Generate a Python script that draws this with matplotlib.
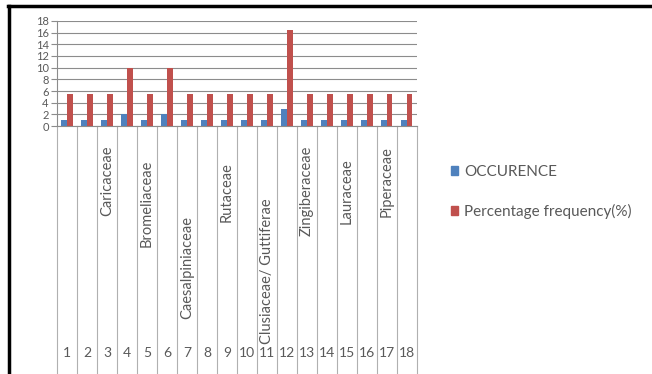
import matplotlib.pyplot as plt
import numpy as np
from matplotlib.lines import Line2D
from matplotlib.patches import Patch

# data
cats = [str(i) for i in range(1, 19)]
families = ['', '', 'Caricaceae', '', 'Bromeliaceae', '', 'Caesalpiniaceae', '',
            'Rutaceae', '', 'Clusiaceae/ Guttiferae', '', 'Zingiberaceae', '',
            'Lauraceae', '', 'Piperaceae', '']
occurence = [1, 1, 1, 2, 1, 2, 1, 1, 1, 1, 1, 3, 1, 1, 1, 1, 1, 1]
pct_freq = [5.5, 5.5, 5.5, 10, 5.5, 10, 5.5, 5.5, 5.5, 5.5, 5.5, 16.5,
            5.5, 5.5, 5.5, 5.5, 5.5, 5.5]
yticks = list(range(0, 19, 2))

# where each family label is centred below the axis (axes fraction)
fam_y = [0, 0, -0.52, 0, -0.74, 0, -1.35, 0, -0.63, 0, -1.38, 0,
         -0.62, 0, -0.62, 0, -0.53, 0]

plt.rcParams['font.family'] = ['Lato', 'DejaVu Sans']
blue = '#4F81BD'
red = '#C0504D'
txt = '#595959'
grid = '#8c8c8c'

fig = plt.figure(figsize=(6.52, 3.74), dpi=100)
ax = fig.add_axes([0.0874, 0.663, 0.552, 0.281])

x = np.arange(1, len(cats) + 1)
w = 0.28
ax.bar(x - w / 2, occurence, w, color=blue, label='OCCURENCE', zorder=3)
ax.bar(x + w / 2, pct_freq, w, color=red, label='Percentage frequency(%)', zorder=3)

ax.set_xlim(0.5, len(cats) + 0.5)
ax.set_ylim(0, 18)
ax.set_yticks(yticks)
ax.set_yticklabels([str(t) for t in yticks], fontsize=8, color=txt)
ax.tick_params(axis='y', length=4, color=grid, pad=2)
ax.yaxis.grid(True, color=grid, lw=0.8, zorder=0)
ax.set_xticks([])
for s in ['top', 'right']:
    ax.spines[s].set_visible(False)
ax.spines['left'].set_color(grid)
ax.spines['bottom'].set_color(grid)

# category table below the axis
tr = ax.get_xaxis_transform()
bottom = -2.36
for b in np.arange(0.5, len(cats) + 1, 1.0):
    ax.plot([b, b], [0, bottom], color='#b0b0b0', lw=0.8, transform=tr, clip_on=False)
for xi, c in zip(x, cats):
    ax.text(xi, -2.16, c, transform=tr, ha='center', va='center',
            fontsize=10, color=txt)
for xi, f, fy in zip(x, families, fam_y):
    if f:
        ax.text(xi, fy, f, transform=tr, ha='center', va='center', rotation=90,
                fontsize=10.5, color=txt)

handles = [Patch(color=blue), Patch(color=red)]
fig.legend(handles, ['OCCURENCE', 'Percentage frequency(%)'],
           loc='center left', bbox_to_anchor=(0.67, 0.487), frameon=False,
           fontsize=11, labelcolor=txt, handlelength=0.5, handleheight=0.5,
           handletextpad=0.4, labelspacing=1.6)

# black frame on top and left edges
fig.add_artist(Line2D([0.012, 1.0], [0.984, 0.984], color='black', lw=2.5,
                      transform=fig.transFigure))
fig.add_artist(Line2D([0.014, 0.014], [0.0, 0.984], color='black', lw=2.5,
                      transform=fig.transFigure))

fig.savefig('out.png', dpi=100)
